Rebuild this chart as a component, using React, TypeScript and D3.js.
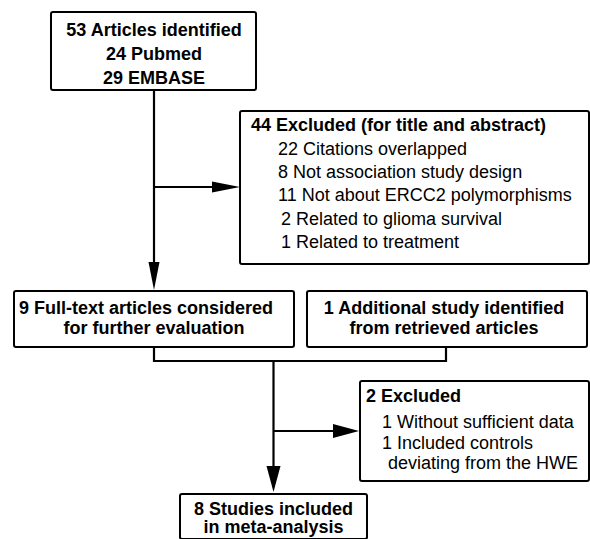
import React, { useEffect, useRef } from 'react';
import * as d3 from 'd3';

// Box texts
const identifiedLines = ['53 Articles identified', '24 Pubmed', '29 EMBASE'];
const excludedTitle = '44 Excluded (for title and abstract)';
const excludedReasons = [
    '22 Citations overlapped',
    '8 Not association study design',
    '11 Not about ERCC2 polymorphisms',
    '2 Related to glioma survival',
    '1 Related to treatment',
];
const fullTextLines = ['9 Full-text articles considered', 'for further evaluation'];
const additionalLines = ['1 Additional study identified', 'from retrieved articles'];
const excluded2Title = '2 Excluded';
const excluded2Reasons = ['1 Without sufficient data', '1 Included controls', 'deviating from the HWE'];
const includedLines = ['8 Studies included', 'in meta-analysis'];

const FONT = '"Liberation Sans", Arial, Helvetica, sans-serif';

const App: React.FC = () => {
    const ref = useRef<SVGSVGElement>(null);

    useEffect(() => {
        if (!ref.current) return;
        const svg = d3.select(ref.current);
        svg.selectAll('*').remove();

        const drawBox = (x0: number, y0: number, x1: number, y1: number) => {
            svg.append('rect')
                .attr('x', x0)
                .attr('y', y0)
                .attr('width', x1 - x0)
                .attr('height', y1 - y0)
                .attr('rx', 2)
                .attr('fill', 'white')
                .attr('stroke', '#000')
                .attr('stroke-width', 2);
        };

        const drawText = (t: string, x: number, y: number, anchor: string, bold: boolean) => {
            svg.append('text')
                .attr('x', x)
                .attr('y', y)
                .attr('text-anchor', anchor)
                .attr('font-family', FONT)
                .attr('font-size', '18px')
                .attr('font-weight', bold ? 'bold' : 'normal')
                .attr('fill', '#000')
                .text(t);
        };

        const line = d3.line<[number, number]>();
        const drawPath = (pts: [number, number][]) => {
            svg.append('path')
                .attr('d', line(pts))
                .attr('fill', 'none')
                .attr('stroke', '#000')
                .attr('stroke-width', 2.2);
        };

        // arrowhead pointing in direction (dx, dy) with tip at (x, y)
        const drawHead = (x: number, y: number, dx: number, dy: number, len: number, half: number) => {
            const bx = x - dx * len;
            const by = y - dy * len;
            const pts: [number, number][] = [
                [x, y],
                [bx - dy * half, by + dx * half],
                [bx + dy * half, by - dx * half],
            ];
            svg.append('path')
                .attr('d', line(pts) + 'Z')
                .attr('fill', '#000');
        };

        // connectors
        drawPath([[154, 90], [154, 280]]);
        drawHead(154, 290, 0, 1, 28, 5.5);
        drawPath([[154, 187], [230, 187]]);
        drawHead(240, 187, 1, 0, 28, 5.5);
        drawPath([[154, 347], [154, 361], [446, 361], [446, 347]]);
        drawPath([[273.5, 361], [273.5, 482]]);
        drawHead(273.5, 492, 0, 1, 26, 7);
        drawPath([[273.5, 431], [350, 431]]);
        drawHead(359, 431, 1, 0, 26, 7);

        // Box 1: identified
        drawBox(51, 12, 256, 90);
        identifiedLines.forEach((t, i) => drawText(t, 154, 36 + i * 24, 'middle', true));

        // Box: excluded for title/abstract
        drawBox(240, 111, 589, 264);
        drawText(excludedTitle, 251, 131, 'start', true);
        excludedReasons.forEach((t, i) => drawText(t, i < 3 ? 278 : 281, 154.5 + i * 23.4, 'start', false));

        // Full-text box
        drawBox(14, 291, 294, 347);
        drawText(fullTextLines[0], 19, 314, 'start', true);
        drawText(fullTextLines[1], 154, 334, 'middle', true);

        // Additional box
        drawBox(307, 291, 587, 347);
        additionalLines.forEach((t, i) => drawText(t, 444, 314 + i * 20, 'middle', true));

        // Second excluded box
        drawBox(360, 381, 589, 481);
        drawText(excluded2Title, 366, 402, 'start', true);
        excluded2Reasons.forEach((t, i) => drawText(t, i < 2 ? 382 : 388, 428 + i * 20.5, 'start', false));

        // Included box
        drawBox(180, 494, 367, 539);
        includedLines.forEach((t, i) => drawText(t, 273.5, 515 + i * 18, 'middle', true));
    }, []);

    return (
        <svg
            ref={ref}
            width={590}
            height={539}
            style={{ position: 'absolute', left: 0, top: 0, background: 'white' }}
        />
    );
};

export default App;
